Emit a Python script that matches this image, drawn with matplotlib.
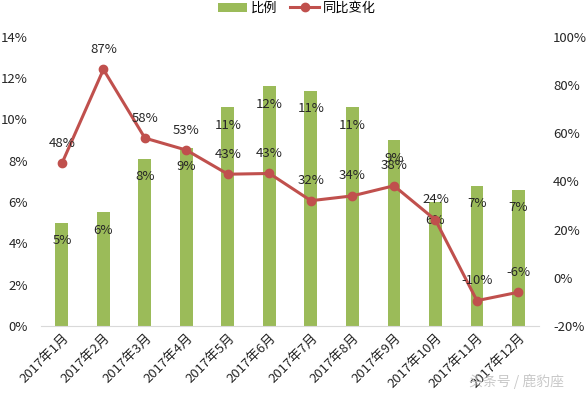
import matplotlib
matplotlib.use("Agg")
import matplotlib.pyplot as plt
from matplotlib.ticker import FuncFormatter

plt.rcParams['font.family'] = ['Noto Sans CJK SC', 'DejaVu Sans']

months = ["2017年1月", "2017年2月", "2017年3月", "2017年4月", "2017年5月", "2017年6月",
          "2017年7月", "2017年8月", "2017年9月", "2017年10月", "2017年11月", "2017年12月"]
ratio = [5.0, 5.5, 8.1, 8.6, 10.6, 11.6, 11.4, 10.6, 9.0, 6.0, 6.8, 6.6]   # %
yoy = [47.5, 86.5, 58, 53, 43, 43.3, 32, 34, 38.2, 24, -9.5, -6]        # %
ratio_labels = ["5%", "6%", "8%", "9%", "11%", "12%", "11%", "11%", "9%", "6%", "7%", "7%"]
yoy_labels = ["48%", "87%", "58%", "53%", "43%", "43%", "32%", "34%", "38%", "24%", "-10%", "-6%"]

bar_color = "#9BBB59"
line_color = "#C0504D"
text_color = "#262626"

fig = plt.figure(figsize=(5.88, 3.97), dpi=100)
ax = fig.add_axes([0.07, 0.179, 0.847, 0.728])
ax2 = ax.twinx()

x = list(range(len(months)))
ax.bar(x, ratio, width=0.31, color=bar_color, label="比例", zorder=2)
ax.set_xlim(-0.5, 11.5)
ax.set_ylim(0, 14)
ax.set_yticks(range(0, 15, 2))
ax.yaxis.set_major_formatter(FuncFormatter(lambda v, p: f"{v:.0f}%"))

ax2.plot(x, yoy, color=line_color, lw=2.2, marker="o", ms=6, label="同比变化", zorder=3)
ax2.set_ylim(-20, 100)
ax2.set_yticks(range(-20, 101, 20))
ax2.yaxis.set_major_formatter(FuncFormatter(lambda v, p: f"{v:.0f}%"))

for a in (ax, ax2):
    for s in a.spines.values():
        s.set_visible(False)
    a.tick_params(length=0, labelsize=9.5, labelcolor=text_color)
ax.spines['bottom'].set_visible(True)
ax.spines['bottom'].set_color("#D9D9D9")
ax.tick_params(axis='y', pad=9.5)
ax2.tick_params(axis='y', pad=10)

ax.set_xticks(x)
ax.set_xticklabels(months, rotation=45, ha="right", rotation_mode="anchor", fontsize=9.5)
ax.tick_params(axis='x', pad=4)

for xi, v, lab in zip(x, ratio, ratio_labels):
    ax.annotate(lab, (xi, v), xytext=(0, -18), textcoords="offset pixels",
                ha="center", va="center", fontsize=9.5, color=text_color, zorder=5)
for xi, v, lab in zip(x, yoy, yoy_labels):
    ax2.annotate(lab, (xi, v), xytext=(0, 20), textcoords="offset pixels",
                 ha="center", va="center", fontsize=9.5, color=text_color, zorder=5)

h1, l1 = ax.get_legend_handles_labels()
h2, l2 = ax2.get_legend_handles_labels()
fig.legend(h1 + h2, l1 + l2, loc="upper center", bbox_to_anchor=(0.505, 1.025), ncol=2,
           frameon=False, fontsize=9.5, handlelength=2.2, columnspacing=1.0, handletextpad=0.3)

fig.text(0.96, 0.02, "头条号 / 鹿豹座", ha="right", va="bottom", fontsize=10, color="#BBBBBB", alpha=0.8)

fig.savefig("out.png", dpi=100)
